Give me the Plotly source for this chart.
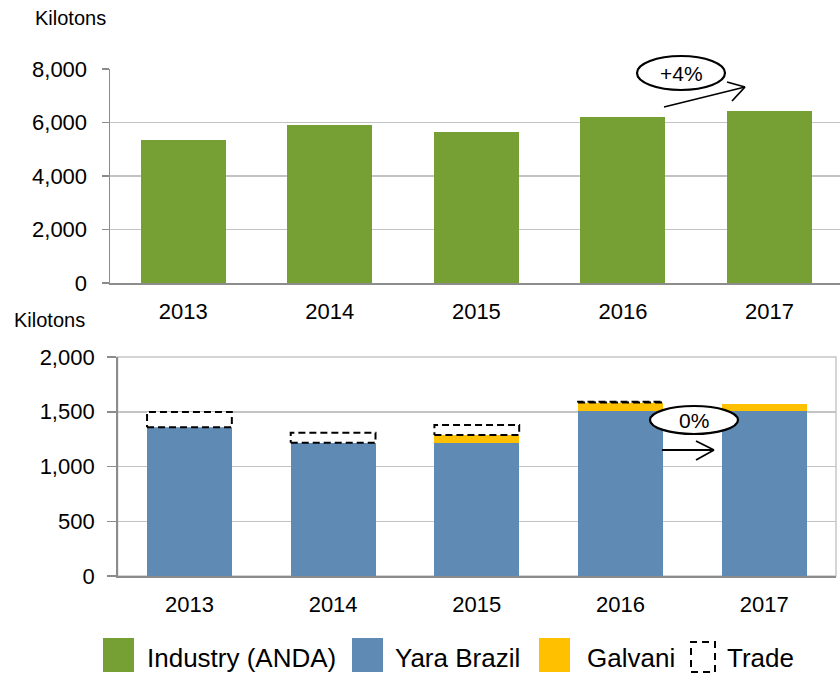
import plotly.graph_objects as go

# ---------------- data ----------------
years = ["2013", "2014", "2015", "2016", "2017"]
industry_anda = [5350, 5900, 5640, 6220, 6430]
yara_brazil = [1358, 1217, 1217, 1507, 1507]
galvani = [0, 0, 70, 77, 62]
trade = [140, 92, 92, 8, 0]
top_ticks = [0, 2000, 4000, 6000, 8000]
bottom_ticks = [0, 500, 1000, 1500, 2000]
growth_top = "+4%"
growth_bottom = "0%"

GREEN = "#77A034"
BLUE = "#5E8AB4"
YELLOW = "#FFC000"
GRID = "#C3C3C3"
AXIS = "#8C8C8C"
FONT = "Liberation Sans, Arial, sans-serif"

W, H = 840, 674
xs = list(range(len(years)))


def px(x, y):
    return x / W, 1 - y / H


def fx(x):
    return x / W


def fy(y):
    return 1 - y / H


fig = go.Figure()

# top chart
fig.add_trace(go.Bar(x=xs, y=industry_anda, marker=dict(color=GREEN, line=dict(width=0)),
                     width=0.58, xaxis="x", yaxis="y", showlegend=False, name="Industry (ANDA)"))

# bottom chart (stacked)
fig.add_trace(go.Bar(x=xs, y=yara_brazil, marker=dict(color=BLUE, line=dict(width=0)),
                     width=0.59, xaxis="x2", yaxis="y2", showlegend=False, name="Yara Brazil"))
fig.add_trace(go.Bar(x=xs, y=galvani, base=yara_brazil, marker=dict(color=YELLOW, line=dict(width=0)),
                     width=0.59, xaxis="x2", yaxis="y2", showlegend=False, name="Galvani"))

# trade: dashed outlined boxes stacked on top
bw = 0.59 / 2
for i, t in enumerate(trade):
    if t <= 0:
        continue
    b = yara_brazil[i] + galvani[i]
    fig.add_trace(go.Scatter(
        x=[i - bw, i + bw, i + bw, i - bw, i - bw],
        y=[b, b, b + t, b + t, b],
        mode="lines", line=dict(color="black", width=2, dash="7px,4px"),
        fill="toself", fillcolor="rgba(255,255,255,1)",
        xaxis="x2", yaxis="y2", showlegend=False, hoverinfo="skip"))

tickfont = dict(family=FONT, size=22, color="#000000")

top_x_right = (W - 183.5) / 146.5  # category index at right edge of the page

fig.update_layout(
    width=W, height=H,
    margin=dict(l=0, r=0, t=0, b=0, autoexpand=False),
    paper_bgcolor="white", plot_bgcolor="white",
    font=dict(family=FONT, color="#000000"),
    bargap=0, barmode="overlay", showlegend=False,
    xaxis=dict(domain=[fx(110), 1.0], range=[-0.5, top_x_right], tickvals=xs, ticktext=years,
               showgrid=False, showline=True, linecolor=AXIS, linewidth=1.5, ticks="",
               tickfont=tickfont, ticklabelstandoff=8, zeroline=False, automargin=False),
    yaxis=dict(domain=[fy(283), fy(69)], range=[0, 8000], tickvals=top_ticks,
               tickformat=",d", showgrid=True, gridcolor=GRID, gridwidth=1.5,
               showline=True, linecolor=AXIS, linewidth=1.5, ticks="outside", ticklen=7,
               tickcolor=AXIS, tickwidth=1.5, tickfont=tickfont, ticklabelstandoff=10,
               zeroline=False, automargin=False),
    xaxis2=dict(domain=[fx(117.6), fx(836)], range=[-0.5, 4.5], tickvals=xs, ticktext=years,
                showgrid=False, showline=True, linecolor=AXIS, linewidth=1.5, ticks="",
                tickfont=tickfont, ticklabelstandoff=8, zeroline=False, anchor="y2",
                automargin=False),
    yaxis2=dict(domain=[fy(576), fy(357)], range=[0, 2000], tickvals=bottom_ticks,
                tickformat=",d", showgrid=True, gridcolor=GRID, gridwidth=1.5,
                showline=True, linecolor=AXIS, linewidth=1.5, ticks="outside", ticklen=9,
                tickcolor=AXIS, tickwidth=1.5, tickfont=tickfont, ticklabelstandoff=8,
                zeroline=False, anchor="x2", automargin=False),
)

shapes = []
# bottom chart frame
shapes.append(dict(type="rect", xref="x2 domain", yref="y2 domain", x0=0, x1=1, y0=0, y1=1,
                   line=dict(color="#C8C8C8", width=1.5), layer="below"))


def ellipse(cx, cy, w, h):
    x0, y0 = px(cx - w / 2, cy + h / 2)
    x1, y1 = px(cx + w / 2, cy - h / 2)
    return dict(type="circle", xref="paper", yref="paper", x0=x0, y0=y0, x1=x1, y1=y1,
                line=dict(color="black", width=2.2), fillcolor="white", layer="above")


def seg(a, b):
    x0, y0 = px(*a)
    x1, y1 = px(*b)
    return dict(type="line", xref="paper", yref="paper", x0=x0, y0=y0, x1=x1, y1=y1,
                line=dict(color="black", width=1.8), layer="above")


# top growth arrow
shapes += [seg((664, 107), (745, 87)), seg((727, 82), (745, 87)), seg((732, 101), (745, 87))]
shapes.append(ellipse(681, 73, 88, 34))
# bottom growth arrow
shapes += [seg((662, 450), (714, 450)), seg((696, 441), (714, 450)), seg((696, 460), (714, 450))]
shapes.append(ellipse(694, 420, 88, 28))

# custom legend
legend_items = [
    ("Industry (ANDA)", GREEN, 103, 134, 145),
    ("Yara Brazil", BLUE, 352, 383, 393),
    ("Galvani", YELLOW, 539, 570, 585),
]
annotations = []
for label, col, sx0, sx1, tx in legend_items:
    x0, y0 = px(sx0, 672)
    x1, y1 = px(sx1, 638)
    shapes.append(dict(type="rect", xref="paper", yref="paper", x0=x0, x1=x1, y0=y0, y1=y1,
                       fillcolor=col, line=dict(width=0)))
    tx_, ty_ = px(tx, 658)
    annotations.append(dict(text=label, x=tx_, y=ty_, xref="paper", yref="paper",
                            xanchor="left", yanchor="middle", showarrow=False,
                            font=dict(family=FONT, size=26, color="#000000")))
x0, y0 = px(691, 672)
x1, y1 = px(715, 642)
shapes.append(dict(type="rect", xref="paper", yref="paper", x0=x0, x1=x1, y0=y0, y1=y1,
                   line=dict(color="black", width=2, dash="7px,5px"), fillcolor="rgba(0,0,0,0)"))
tx_, ty_ = px(725, 658)
annotations.append(dict(text="Trade", x=tx_, y=ty_, xref="paper", yref="paper",
                        xanchor="left", yanchor="middle", showarrow=False,
                        font=dict(family=FONT, size=26, color="#000000")))

# growth labels
for txt, (cx, cy) in [(growth_top, (681, 73)), (growth_bottom, (694, 420))]:
    ax, ay = px(cx, cy)
    annotations.append(dict(text=txt, x=ax, y=ay, xref="paper", yref="paper",
                            xanchor="center", yanchor="middle", showarrow=False,
                            font=dict(family=FONT, size=21, color="#000000")))

# unit labels
for (lx, ly) in [(33, 18), (12, 320)]:
    ax, ay = px(lx, ly)
    annotations.append(dict(text="Kilotons", x=ax, y=ay, xref="paper", yref="paper",
                            xanchor="left", yanchor="middle", showarrow=False,
                            font=dict(family=FONT, size=20, color="#000000")))

fig.update_layout(shapes=shapes, annotations=annotations)
fig.write_html(
    "out.html",
    config={"displayModeBar": False, "staticPlot": True},
    post_script="document.body.style.margin='0';document.body.style.overflow='hidden';",
)
